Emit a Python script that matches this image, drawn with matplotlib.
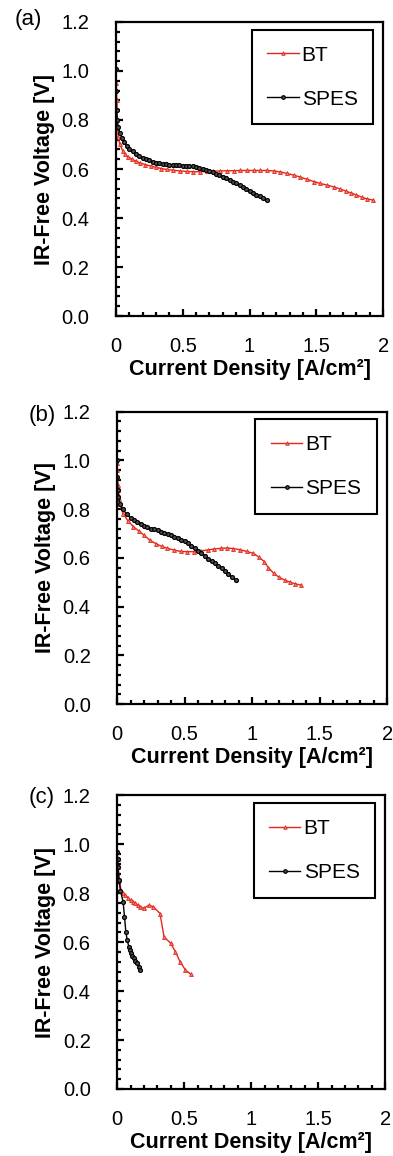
import matplotlib
matplotlib.use("Agg")
import matplotlib.pyplot as plt
from matplotlib.ticker import MultipleLocator, FixedLocator, FixedFormatter

plt.rcParams['font.family'] = ['Liberation Sans', 'DejaVu Sans']

# panel (a)
bt_a_x = [0.0, 0.003, 0.006, 0.01, 0.017, 0.03, 0.05, 0.067, 0.09, 0.12, 0.15, 0.18, 0.22, 0.26, 0.30,
          0.34, 0.38, 0.43, 0.48, 0.53, 0.58, 0.63, 0.68, 0.73, 0.78, 0.83, 0.88, 0.93, 0.98, 1.03,
          1.08, 1.13, 1.18, 1.23, 1.28, 1.33, 1.38, 1.43, 1.48, 1.53, 1.58, 1.63, 1.68, 1.72, 1.76,
          1.80, 1.84, 1.88, 1.925]
bt_a_y = [1.01, 0.95, 0.88, 0.80, 0.73, 0.70, 0.675, 0.66, 0.65, 0.64, 0.632, 0.625, 0.618, 0.612, 0.607,
          0.602, 0.598, 0.595, 0.592, 0.59, 0.589, 0.589, 0.59, 0.591, 0.592, 0.593, 0.593, 0.594, 0.594, 0.594,
          0.594, 0.594, 0.592, 0.588, 0.582, 0.575, 0.567, 0.558, 0.549, 0.541, 0.534, 0.527, 0.518, 0.51, 0.502,
          0.494, 0.485, 0.478, 0.473]
spes_a_x = [0.0, 0.002, 0.005, 0.01, 0.017, 0.03, 0.045, 0.06, 0.08, 0.1, 0.125, 0.15, 0.175, 0.2, 0.225,
            0.25, 0.275, 0.3, 0.325, 0.35, 0.375, 0.4, 0.425, 0.45, 0.475, 0.5, 0.525, 0.55, 0.575, 0.6,
            0.625, 0.65, 0.675, 0.7, 0.725, 0.75, 0.775, 0.8, 0.825, 0.85, 0.875, 0.9, 0.925, 0.95, 0.975,
            1.0, 1.025, 1.05, 1.075, 1.1, 1.13]
spes_a_y = [1.01, 0.92, 0.84, 0.80, 0.77, 0.745, 0.725, 0.71, 0.695, 0.683, 0.672, 0.662, 0.654, 0.645, 0.64,
            0.635, 0.63, 0.626, 0.623, 0.621, 0.619, 0.618, 0.617, 0.616, 0.615, 0.614, 0.613, 0.612, 0.611, 0.609,
            0.605, 0.601, 0.597, 0.592, 0.586, 0.58, 0.574, 0.568, 0.562, 0.556, 0.549, 0.542, 0.535, 0.527, 0.519,
            0.511, 0.503, 0.495, 0.488, 0.48, 0.473]

# panel (b)
bt_b_x = [0.0, 0.0, 0.002, 0.003, 0.005, 0.008, 0.012, 0.02, 0.045, 0.08, 0.12, 0.16, 0.20, 0.24, 0.29,
          0.33, 0.37, 0.42, 0.47, 0.52, 0.57, 0.62, 0.67, 0.72, 0.77, 0.815, 0.86, 0.91, 0.96, 1.01,
          1.05, 1.09, 1.12, 1.16, 1.20, 1.24, 1.28, 1.32, 1.36]
bt_b_y = [0.99, 0.96, 0.93, 0.90, 0.88, 0.86, 0.84, 0.82, 0.78, 0.752, 0.728, 0.71, 0.692, 0.673, 0.657,
          0.647, 0.639, 0.632, 0.626, 0.625, 0.625, 0.628, 0.632, 0.636, 0.639, 0.64, 0.638, 0.633, 0.626, 0.618,
          0.603, 0.584, 0.56, 0.536, 0.52, 0.509, 0.5, 0.493, 0.488]
spes_b_x = [0.0, 0.002, 0.005, 0.01, 0.02, 0.04, 0.07, 0.1, 0.125, 0.15, 0.175, 0.2, 0.225, 0.25, 0.275,
            0.3, 0.325, 0.35, 0.375, 0.4, 0.425, 0.45, 0.475, 0.5, 0.525, 0.55, 0.575, 0.6, 0.625, 0.65,
            0.675, 0.7, 0.725, 0.75, 0.775, 0.8, 0.825, 0.85, 0.88]
spes_b_y = [1.0, 0.93, 0.88, 0.85, 0.82, 0.80, 0.78, 0.762, 0.754, 0.746, 0.739, 0.732, 0.726, 0.72, 0.716,
            0.712, 0.707, 0.701, 0.697, 0.692, 0.687, 0.681, 0.674, 0.667, 0.659, 0.65, 0.64, 0.629, 0.618, 0.607,
            0.597, 0.587, 0.577, 0.566, 0.556, 0.546, 0.534, 0.521, 0.509]

# panel (c)
bt_c_x = [0.0, 0.003, 0.006, 0.015, 0.03, 0.045, 0.062, 0.08, 0.1, 0.12, 0.137, 0.155, 0.174, 0.2,
          0.236, 0.27, 0.32, 0.35, 0.40, 0.435, 0.47, 0.51, 0.55]
bt_c_y = [0.969, 0.94, 0.907, 0.853, 0.81, 0.80, 0.792, 0.782, 0.772, 0.765, 0.758, 0.752, 0.745, 0.738,
          0.751, 0.745, 0.717, 0.622, 0.595, 0.561, 0.52, 0.486, 0.469]
spes_c_x = [0.0, 0.004, 0.008, 0.015, 0.025, 0.045, 0.055, 0.065, 0.075, 0.087, 0.096, 0.104, 0.114,
            0.124, 0.136, 0.149, 0.161, 0.174]
spes_c_y = [0.969, 0.94, 0.907, 0.853, 0.81, 0.765, 0.704, 0.643, 0.609, 0.582, 0.568, 0.554, 0.544,
            0.534, 0.524, 0.514, 0.5, 0.486]

x_ticks = [0, 0.5, 1, 1.5, 2]
x_tick_labels = ["0", "0.5", "1", "1.5", "2"]
y_ticks = [0.0, 0.2, 0.4, 0.6, 0.8, 1.0, 1.2]
y_tick_labels = ["0.0", "0.2", "0.4", "0.6", "0.8", "1.0", "1.2"]

panels = [
    ("(a)", bt_a_x, bt_a_y, spes_a_x, spes_a_y),
    ("(b)", bt_b_x, bt_b_y, spes_b_x, spes_b_y),
    ("(c)", bt_c_x, bt_c_y, spes_c_x, spes_c_y),
]
# axes rectangles in figure fraction
rects = [[0.295, 0.7266, 0.68, 0.2544],
         [0.298, 0.391, 0.687, 0.253],
         [0.298, 0.058, 0.682, 0.254]]
tag_x = [0.071, 0.107, 0.107]
tag_y = [0.983, 0.641, 0.310]

fig = plt.figure(figsize=(3.93, 11.56), dpi=100)

for i, (tag, btx, bty, spx, spy) in enumerate(panels):
    ax = fig.add_axes(rects[i])
    ax.plot(btx, bty, color="#e3281b", lw=1.0, marker="^", ms=2.8, mfc="#f07a70",
            mec="#e3281b", mew=0.6, label="BT")
    ax.plot(spx, spy, color="black", lw=1.0, marker="o", ms=2.8, mfc="#555555",
            mec="black", mew=0.9, label="SPES")
    ax.set_xlim(0, 2)
    ax.set_ylim(0, 1.2)
    ax.xaxis.set_major_locator(FixedLocator(x_ticks))
    ax.xaxis.set_major_formatter(FixedFormatter(x_tick_labels))
    ax.yaxis.set_major_locator(FixedLocator(y_ticks))
    ax.yaxis.set_major_formatter(FixedFormatter(y_tick_labels))
    ax.xaxis.set_minor_locator(MultipleLocator(0.1))
    ax.yaxis.set_minor_locator(MultipleLocator(0.04))
    ax.tick_params(which="both", direction="in", top=False, right=False, width=1.6)
    ax.tick_params(which="major", length=5)
    ax.tick_params(which="minor", length=3)
    ax.tick_params(axis="x", which="major", pad=15, labelsize=14.5)
    ax.tick_params(axis="y", which="major", pad=19, labelsize=14.5)
    for s in ax.spines.values():
        s.set_linewidth(1.6)
    ax.set_xlabel("Current Density [A/cm²]", fontsize=15.5, fontweight="bold", labelpad=2)
    ax.set_ylabel("IR-Free Voltage [V]", fontsize=15.5, fontweight="bold", labelpad=5)
    leg = ax.legend(loc="upper right", bbox_to_anchor=(0.963, 0.973), fontsize=15,
                    fancybox=False, framealpha=1, edgecolor="black", handlelength=1.5,
                    handletextpad=0.15, labelspacing=1.2, borderpad=0.75, borderaxespad=0,
                    markerscale=0.9)
    leg.get_frame().set_linewidth(1.5)
    fig.text(tag_x[i], tag_y[i], tag, fontsize=16, ha="center", va="center")

fig.savefig("out.png", dpi=100)
